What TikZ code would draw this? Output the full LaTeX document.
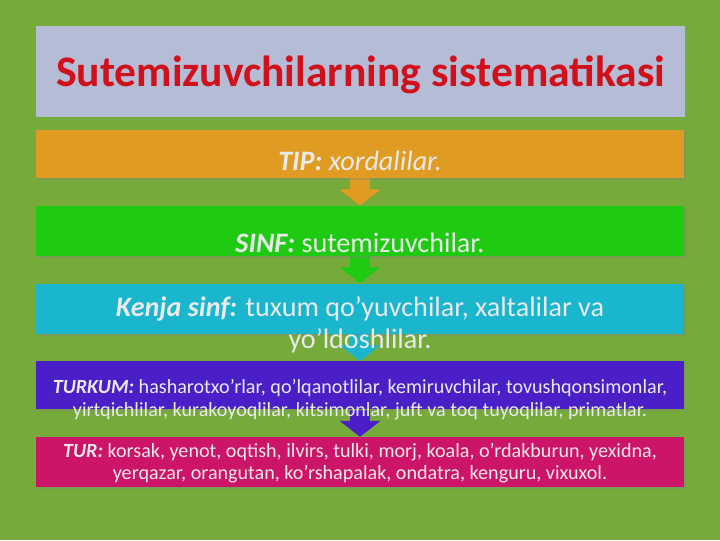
\documentclass[tikz,border=0pt]{standalone}
\usepackage{fontspec}
\setmainfont{Carlito}
\usetikzlibrary{arrows.meta, positioning, backgrounds, shadows}

\definecolor{bggreen}{HTML}{76AB3C}
\definecolor{titlebg}{HTML}{B5BCD6}
\definecolor{titlered}{HTML}{D0101A}
\definecolor{txtgray}{HTML}{EAEAEA}
\definecolor{tipc}{HTML}{E09C22}
\definecolor{sinfc}{HTML}{1FCB12}
\definecolor{kenjac}{HTML}{19B6CE}
\definecolor{turkumc}{HTML}{4A1FC8}
\definecolor{turc}{HTML}{CC1468}

\begin{document}
\begin{tikzpicture}[x=0.025cm, y=-0.025cm]

\tikzstyle{bar} = [rectangle, minimum width=16.2cm, minimum height=1.22cm, inner sep=0pt, node distance=0.68cm, drop shadow={shadow xshift=0.04cm, shadow yshift=-0.05cm, opacity=0.35}]
\tikzstyle{txt} = [text=txtgray, align=center, inner sep=0pt]
\tikzstyle{conn} = [line width=0.5cm, -{Triangle[length=0.4cm, width=1cm]}]

\useasboundingbox (0,0) rectangle (720,540);

%Title
\node[fill=titlebg, minimum width=16.225cm, minimum height=2.275cm, inner sep=0pt] (titlebox) at (360.5,71.5) {};
\node[text=titlered, font=\fontsize{31}{36}\selectfont\bfseries] (title) at ([yshift=-0.08cm]titlebox.center) {Sutemizuvchilarning sistematikasi};

%Creating Bars
\node[bar, fill=tipc, minimum height=1.2cm] (tip) at (360,154) {};
\node[bar, fill=sinfc, minimum height=1.25cm, below=of tip] (sinf) {};
\node[bar, fill=kenjac, minimum height=1.25cm, below=of sinf] (kenja) {};
\node[bar, fill=turkumc, minimum height=1.2cm, below=of kenja] (turkum) {};
\node[bar, fill=turc, minimum height=1.25cm, below=of turkum] (tur) {};

%Texts
\node[txt, font=\fontsize{20}{23}\selectfont] (tiptxt) at ([yshift=-0.18cm]tip.center) {\textbf{\textit{TIP:}} \textit{xordalilar.}};
\node[txt, font=\fontsize{20}{23}\selectfont] (sinftxt) at ([yshift=-0.3cm]sinf.center) {\textbf{\textit{SINF:}} sutemizuvchilar.};
\node[txt, font=\fontsize{20}{23}\selectfont] (kenjatxt) at ([yshift=-0.4cm]kenja.center) {\textbf{\textit{Kenja sinf:}} tuxum qo’yuvchilar, xaltalilar va\\ yo’ldoshlilar.};
\node[txt, font=\fontsize{14.3}{16.5}\selectfont] (turkumtxt) at ([yshift=-0.35cm]turkum.center) {\textbf{\textit{TURKUM:}} hasharotxo’rlar, qo’lqanotlilar, kemiruvchilar, tovushqonsimonlar,\\ yirtqichlilar, kurakoyoqlilar, kitsimonlar, juft va toq tuyoqlilar, primatlar.};
\node[txt, font=\fontsize{14.3}{15.5}\selectfont] (turtxt) at ([yshift=-0.03cm]tur.center) {\textbf{\textit{TUR:}} korsak, yenot, oqtish, ilvirs, tulki, morj, koala, o’rdakburun, yexidna,\\ yerqazar, orangutan, ko’rshapalak, ondatra, kenguru, vixuxol.};

%Connecting Bars
\begin{scope}[on background layer]
\fill[bggreen] (0,0) rectangle (720,540);
\draw[conn, tipc] (tip.south) -- (sinf.north);
\draw[conn, sinfc] (sinf.south) -- (kenja.north);
\draw[conn, kenjac] (kenja.south) -- (turkum.north);
\draw[conn, turkumc] (turkum.south) -- (tur.north);
\end{scope}

\end{tikzpicture}
\end{document}
